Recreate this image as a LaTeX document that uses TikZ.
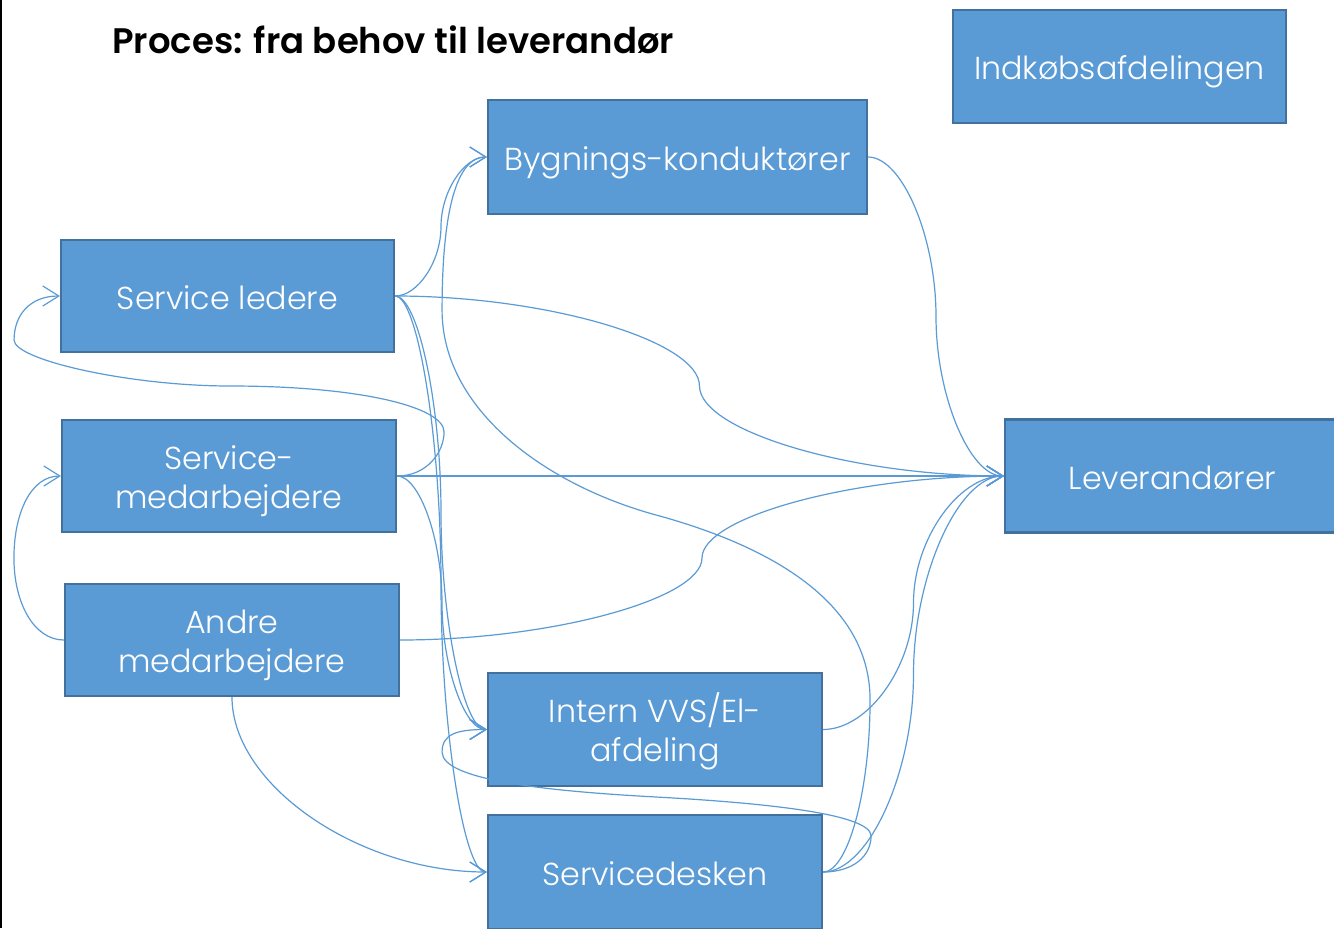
\documentclass[tikz,border=0pt]{standalone}
\usepackage{fontspec}
\setmainfont{Poppins}[UprightFont=* Light, BoldFont=* SemiBold]
\usetikzlibrary{arrows.meta,calc}
\definecolor{boxfill}{HTML}{5B9BD5}
\definecolor{boxline}{HTML}{41719C}
\definecolor{connc}{HTML}{5B9BD5}
\begin{document}
\begin{tikzpicture}[x=0.75pt,y=-0.75pt,
  box/.style={draw=boxline,fill=boxfill,line width=1.6pt,text=white,align=center,inner sep=0pt,
    font=\fontsize{23.8}{29.25}\selectfont,text height=19.5pt,text depth=0pt},
  box2/.style={box,text height=48.5pt,text depth=0pt},
  conn/.style={draw=connc,line width=0.9pt,-{Straight Barb[length=12pt,width=15pt,line width=0.9pt]}},
  cc/.style={to path={let \p1=(\tikztostart),\p2=(\tikztotarget) in
    .. controls ({\x1+(\x2-\x1)/4},\y1) and ({(\x1+\x2)/2},{\y1+(\y2-\y1)/4})
    .. ({(\x1+\x2)/2},{(\y1+\y2)/2})
    .. controls ({(\x1+\x2)/2},{\y1+3*(\y2-\y1)/4}) and ({\x2-(\x2-\x1)/4},\y2)
    .. (\tikztotarget)}}
]
\useasboundingbox[fill=white] (0,0) rectangle (1334,928);
\draw[line width=1.5pt] (1,0) -- (1,928);

\node[anchor=base west,inner sep=0pt,font=\bfseries\fontsize{26.6}{30}\selectfont] (T) at (112,53) {Proces: fra behov til leverandør};

\node[box,minimum width=249.75pt,minimum height=84.75pt] (IK) at (1119.5,66.5) {Indkøbsafdelingen};
\node[box,minimum width=284.25pt,minimum height=85.5pt] (BK) at (677.5,157) {Bygnings-konduktører};
\node[box,minimum width=249.75pt,minimum height=84pt] (SL) at (227.5,296) {Service ledere};
\node[box2,minimum width=250.5pt,minimum height=84pt] (SM) at (229,476) {Service-\\medarbejdere};
\node[box2,minimum width=250.5pt,minimum height=84pt] (AM) at (232,640) {Andre\\medarbejdere};
\node[box,minimum width=251.25pt,minimum height=84.75pt] (LV) at (1172.5,476) {Leverandører};
\node[box2,minimum width=250.5pt,minimum height=84.75pt] (IV) at (655,729.5) {Intern VVS/El-\\afdeling};
\node[box,minimum width=250.5pt,minimum height=85.5pt] (SD) at (655,872) {Servicedesken};

% standard curved connectors
\draw[conn] (SL.east) to[cc] (BK.west);
\draw[conn] (SL.east) to[cc] (LV.west);
\draw[conn] (SL.east) to[cc] (IV.west);
\draw[conn] (SL.east) to[cc] (SD.west);
\draw[conn] (SM.east) to[cc] (LV.west);
\draw[conn] (SM.east) to[cc] (IV.west);
\draw[conn] (AM.east) to[cc] (LV.west);
\draw[conn] (BK.east) to[cc] (LV.west);
\draw[conn] (IV.east) to[cc] (LV.west);
\draw[conn] (SD.east) to[cc] (LV.west);
\draw[conn] (AM.south) .. controls +(0,88) and +(-128,0) .. (SD.west);

% loops
\draw[conn] (AM.west) .. controls +(-30,0) and +(0,45) .. ++(-50,-82)
  .. controls +(0,-45) and +(-30,0) .. (SM.west);
\draw[conn] (SM.east) .. controls +(30,0) and +(0,20) .. ++(47,-44)
  .. controls +(0,-25) and +(130,0) .. ++(-214,-46)
  .. controls +(-100,0) and +(0,20) .. ++(-216,-46)
  .. controls +(0,-25) and +(-30,0) .. (SL.west);
\draw[conn] (SD.east) .. controls +(25,0) and +(0,90) .. ++(47,-172)
  .. controls +(0,-100) and +(110,30) .. ++(-214,-185)
  .. controls +(-110,-30) and +(0,100) .. ++(-214,-205)
  .. controls +(0,-100) and +(-30,0) .. (BK.west);
\draw[conn] (SD.east) .. controls +(30,0) and +(0,20) .. ++(48,-36)
  .. controls +(0,-22) and +(110,6) .. ++(-215,-39)
  .. controls +(-110,-6) and +(0,28) .. ++(-214,-45)
  .. controls +(0,-18) and +(-30,0) .. (IV.west);
\end{tikzpicture}
\end{document}
